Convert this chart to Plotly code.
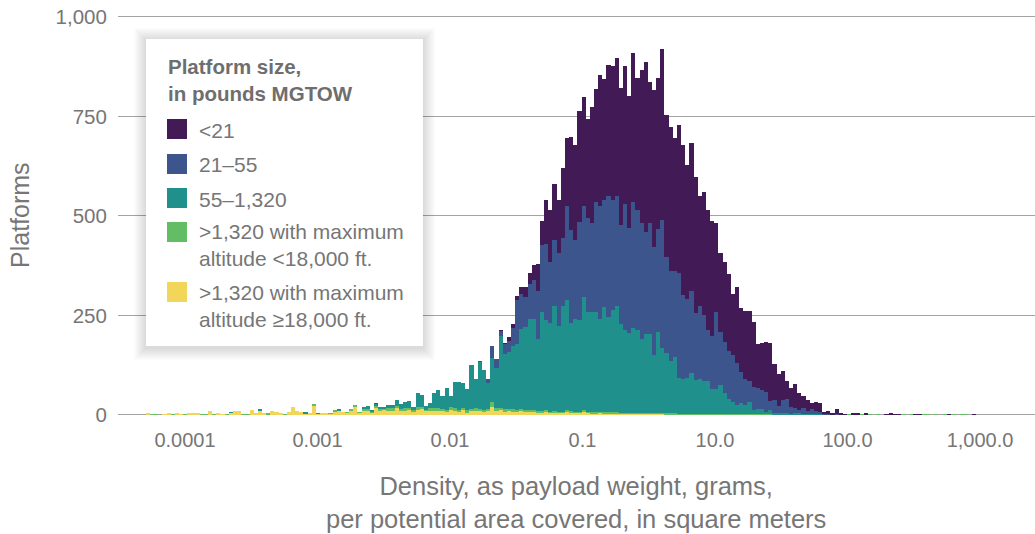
import plotly.graph_objects as go

# ---------------- data (counts per histogram bin) ----------------
# bins are evenly spaced in log10(density); 200 bins
bin_lo = -4.2962      # log10 of left edge of first bin
bin_w = 0.03132       # bin width in log10 units

yellow = [
    3, 0, 0, 0, 2, 3, 1, 3, 1, 0,
    3, 3, 3, 0, 1, 10, 1, 5, 2, 0,
    5, 10, 10, 1, 1, 13, 5, 12, 5, 2,
    10, 8, 5, 1, 8, 20, 10, 8, 3, 5,
    23, 3, 5, 5, 3, 8, 12, 8, 5, 12,
    20, 5, 12, 10, 5, 18, 12, 13, 12, 12,
    18, 10, 12, 12, 8, 12, 15, 10, 12, 10,
    12, 10, 8, 12, 10, 8, 12, 6, 10, 10,
    10, 8, 10, 20, 10, 12, 8, 10, 8, 8,
    10, 8, 8, 8, 6, 6, 8, 5, 6, 5,
    5, 8, 6, 5, 5, 8, 5, 4, 4, 5,
    4, 4, 4, 4, 3, 3, 3, 3, 3, 3,
    3, 3, 3, 3, 3, 2, 2, 2, 2, 2,
    2, 2, 2, 2, 2, 2, 2, 2, 2, 2,
    1, 1, 1, 1, 1, 1, 1, 0, 1, 0,
    1, 0, 1, 0, 0, 0, 1, 0, 0, 0,
    0, 0, 0, 0, 0, 0, 0, 0, 0, 0,
    0, 0, 0, 0, 0, 0, 0, 0, 0, 0,
    0, 0, 0, 0, 0, 0, 0, 0, 0, 0,
    0, 0, 0, 0, 0, 0, 0, 0, 0, 0,
]
green = [
    0, 1, 1, 0, 0, 0, 1, 0, 0, 1,
    0, 0, 0, 1, 1, 0, 1, 0, 0, 1,
    0, 0, 0, 1, 1, 0, 0, 0, 0, 1,
    0, 0, 0, 1, 0, 0, 0, 0, 0, 0,
    3, 0, 0, 0, 1, 3, 0, 0, 1, 2,
    3, 2, 5, 5, 3, 5, 3, 2, 5, 5,
    3, 5, 5, 6, 4, 8, 5, 3, 5, 8,
    5, 4, 5, 8, 6, 5, 6, 5, 5, 8,
    5, 4, 5, 13, 8, 6, 6, 5, 6, 5,
    5, 5, 4, 4, 4, 3, 4, 3, 3, 3,
    2, 4, 3, 3, 3, 3, 3, 2, 2, 3,
    2, 2, 2, 2, 2, 2, 2, 2, 2, 2,
    2, 2, 2, 2, 2, 2, 2, 2, 1, 1,
    1, 1, 1, 1, 1, 1, 1, 1, 1, 1,
    1, 1, 1, 1, 1, 1, 1, 1, 1, 1,
    1, 1, 0, 1, 1, 1, 0, 1, 1, 1,
    0, 1, 0, 1, 0, 1, 0, 1, 0, 1,
    0, 0, 1, 0, 1, 0, 1, 0, 0, 0,
    0, 0, 1, 0, 1, 0, 0, 1, 1, 0,
    1, 0, 1, 0, 1, 0, 1, 1, 0, 0,
]
teal = [
    0, 0, 0, 0, 0, 0, 0, 0, 0, 0,
    0, 0, 0, 0, 0, 0, 0, 0, 0, 0,
    2, 0, 0, 0, 0, 0, 0, 2, 0, 0,
    0, 0, 0, 0, 0, 0, 0, 0, 2, 0,
    0, 1, 0, 0, 0, 0, 1, 0, 0, 0,
    0, 0, 3, 8, 2, 5, 3, 5, 8, 8,
    17, 13, 16, 17, 8, 35, 30, 10, 13, 37,
    46, 34, 55, 28, 67, 70, 62, 54, 110, 72,
    118, 101, 65, 110, 100, 180, 139, 143, 159, 165,
    201, 208, 229, 229, 180, 249, 226, 223, 264, 215,
    266, 276, 222, 233, 230, 285, 250, 252, 252, 233,
    265, 240, 257, 267, 223, 208, 201, 213, 208, 185,
    198, 198, 145, 203, 163, 151, 131, 141, 90, 87,
    90, 102, 85, 87, 82, 82, 62, 62, 72, 52,
    38, 31, 23, 28, 23, 31, 11, 14, 13, 7,
    11, 4, 4, 4, 4, 2, 4, 4, 2, 1,
    2, 1, 2, 0, 1, 0, 1, 0, 0, 0,
    0, 0, 0, 0, 0, 0, 0, 0, 0, 0,
    0, 0, 0, 0, 0, 0, 0, 0, 0, 0,
    0, 0, 0, 0, 0, 0, 0, 0, 0, 0,
]
blue = [
    0, 0, 0, 0, 0, 0, 0, 0, 0, 0,
    0, 0, 0, 0, 0, 0, 0, 0, 0, 0,
    0, 0, 0, 0, 0, 0, 0, 0, 0, 0,
    0, 0, 0, 0, 0, 0, 0, 0, 0, 0,
    0, 0, 0, 0, 0, 0, 0, 0, 0, 0,
    0, 0, 0, 0, 0, 1, 0, 0, 0, 0,
    0, 0, 0, 0, 0, 0, 0, 0, 0, 0,
    0, 0, 0, 0, 0, 0, 0, 0, 0, 0,
    2, 0, 10, 30, 22, 13, 25, 27, 45, 110,
    87, 75, 87, 97, 121, 168, 191, 152, 166, 183,
    171, 236, 233, 198, 246, 230, 236, 223, 278, 285,
    270, 303, 276, 276, 248, 318, 263, 318, 301, 291,
    256, 278, 271, 258, 322, 241, 226, 216, 263, 211,
    198, 206, 168, 183, 166, 128, 133, 193, 133, 128,
    120, 117, 105, 78, 65, 52, 57, 53, 48, 50,
    22, 33, 18, 33, 35, 17, 13, 8, 15, 8,
    13, 8, 6, 2, 2, 1, 1, 1, 0, 0,
    2, 0, 0, 0, 0, 0, 0, 0, 0, 0,
    0, 0, 0, 0, 0, 0, 0, 0, 0, 0,
    0, 0, 0, 0, 0, 0, 0, 0, 0, 0,
]
purple = [
    0, 0, 0, 0, 0, 0, 0, 0, 0, 0,
    0, 0, 0, 0, 0, 0, 0, 0, 0, 0,
    0, 0, 0, 0, 0, 0, 0, 0, 0, 0,
    0, 0, 0, 0, 0, 0, 0, 0, 0, 0,
    0, 0, 0, 0, 0, 0, 0, 0, 0, 0,
    0, 0, 0, 0, 0, 0, 0, 0, 0, 0,
    0, 0, 0, 0, 0, 0, 0, 0, 0, 0,
    0, 0, 0, 0, 0, 0, 0, 0, 0, 0,
    0, 0, 0, 0, 0, 2, 2, 10, 10, 10,
    18, 25, 28, 38, 67, 60, 110, 131, 140, 133,
    177, 173, 235, 238, 280, 273, 250, 293, 283, 328,
    303, 331, 338, 348, 346, 346, 333, 374, 333, 386,
    428, 356, 396, 381, 430, 358, 363, 336, 373, 376,
    336, 371, 343, 278, 310, 303, 288, 223, 198, 200,
    193, 153, 191, 160, 171, 176, 163, 110, 117, 125,
    145, 90, 80, 72, 45, 48, 60, 42, 30, 28,
    15, 23, 22, 5, 7, 1, 13, 3, 1, 0,
    1, 5, 0, 3, 0, 0, 0, 0, 2, 3,
    2, 2, 0, 0, 0, 2, 2, 0, 0, 0,
    0, 0, 0, 2, 0, 0, 0, 0, 0, 2,
]

series_names = ["<21", "21–55", "55–1,320",
                ">1,320 with maximum<br>altitude <18,000 ft.",
                ">1,320 with maximum<br>altitude ≥18,000 ft."]
series_colors = ["#421a56", "#3c558c", "#1f908b", "#63bd64", "#f2d65a"]

x_tickvals = [-4, -3, -2, -1, 0, 1, 2]
x_ticktext = ["0.0001", "0.001", "0.01", "0.1", "10.0", "100.0", "1,000.0"]
y_tickvals = [0, 250, 500, 750, 1000]
y_ticktext = ["0", "250", "500", "750", "1,000"]

legend_title = "Platform size,<br>in pounds MGTOW"
x_title = "Density, as payload weight, grams,<br>per potential area covered, in square meters"
y_title = "Platforms"

# ---------------- figure ----------------
n = len(purple)
xc = [bin_lo + bin_w * (k + 0.5) for k in range(n)]

W, H = 1035, 534
ML, MR, MT, MB = 118, 0, 13, 118
PW, PH = W - ML - MR, H - MT - MB


def PX(px):
    return (px - ML) / PW


def PY(py):
    return (H - MB - py) / PH


TXT = "#767676"
FONT = "Liberation Sans, Arial, Helvetica, sans-serif"

fig = go.Figure()
stack = [(yellow, 4), (green, 3), (teal, 2), (blue, 1), (purple, 0)]
for vals, idx in stack:
    fig.add_trace(go.Bar(
        x=xc, y=vals, width=bin_w, name=series_names[idx],
        marker=dict(color=series_colors[idx], line=dict(width=0)),
        showlegend=False,
    ))

fig.update_layout(
    width=W, height=H,
    margin=dict(l=ML, r=MR, t=MT, b=MB, pad=0),
    barmode="stack", bargap=0,
    plot_bgcolor="white", paper_bgcolor="white",
    font=dict(family=FONT, color=TXT, size=20),
)
fig.update_xaxes(
    range=[-4.5057, 2.4151], tickmode="array", tickvals=x_tickvals, ticktext=x_ticktext,
    showgrid=False, zeroline=False, showline=False,
    ticks="outside", ticklen=6, tickcolor="rgba(0,0,0,0)",
    tickfont=dict(size=20, color=TXT),
)
fig.update_yaxes(
    range=[-3, 1010], tickmode="array", tickvals=y_tickvals, ticktext=y_ticktext,
    showgrid=True, gridcolor="#a3a3a3", gridwidth=1.3, zeroline=False, showline=False,
    ticks="outside", ticklen=6, tickcolor="rgba(0,0,0,0)",
    tickfont=dict(size=20.5, color=TXT),
)

shapes = []
# legend box with soft shadow
bx0, bx1, by0, by1 = 146, 423, 39, 346
for k in range(12, 0, -1):
    shapes.append(dict(type="rect", xref="paper", yref="paper",
                       x0=PX(bx0 - k), x1=PX(bx1 + k), y0=PY(by1 + k + 2), y1=PY(by0 - k + 1),
                       fillcolor="rgba(0,0,0,0.013)", line=dict(width=0), layer="above"))
shapes.append(dict(type="rect", xref="paper", yref="paper",
                   x0=PX(bx0), x1=PX(bx1), y0=PY(by1), y1=PY(by0),
                   fillcolor="white", line=dict(width=0), layer="above"))
sw_tops = [119, 154, 188, 222, 282]
order = [0, 1, 2, 3, 4]
for i, top in zip(order, sw_tops):
    shapes.append(dict(type="rect", xref="paper", yref="paper",
                       x0=PX(167), x1=PX(187), y0=PY(top + 20), y1=PY(top),
                       fillcolor=series_colors[i], line=dict(width=0), layer="above"))
fig.update_layout(shapes=shapes)

ann = []
ann.append(dict(xref="paper", yref="paper", x=PX(166), y=PY(80), xanchor="left", yanchor="middle",
                text="<b>" + legend_title + "</b>", showarrow=False, align="left",
                font=dict(size=20.5, color="#6e6e6e", family=FONT)))
text_centers = [130, 164, 199, 245.5, 305.5]
for i, cy in zip(order, text_centers):
    ann.append(dict(xref="paper", yref="paper", x=PX(197), y=PY(cy), xanchor="left", yanchor="middle",
                    text=series_names[i], showarrow=False, align="left",
                    font=dict(size=21, color=TXT, family=FONT)))
ann.append(dict(xref="paper", yref="paper", x=PX(576), y=PY(503), xanchor="center", yanchor="middle",
                text=x_title, showarrow=False, align="center",
                font=dict(size=25.5, color=TXT, family=FONT)))
ann.append(dict(xref="paper", yref="paper", x=PX(20), y=PY(215), xanchor="center", yanchor="middle",
                text=y_title, showarrow=False, textangle=-90,
                font=dict(size=25, color=TXT, family=FONT)))
fig.update_layout(annotations=ann)

fig.write_html("out.html")
